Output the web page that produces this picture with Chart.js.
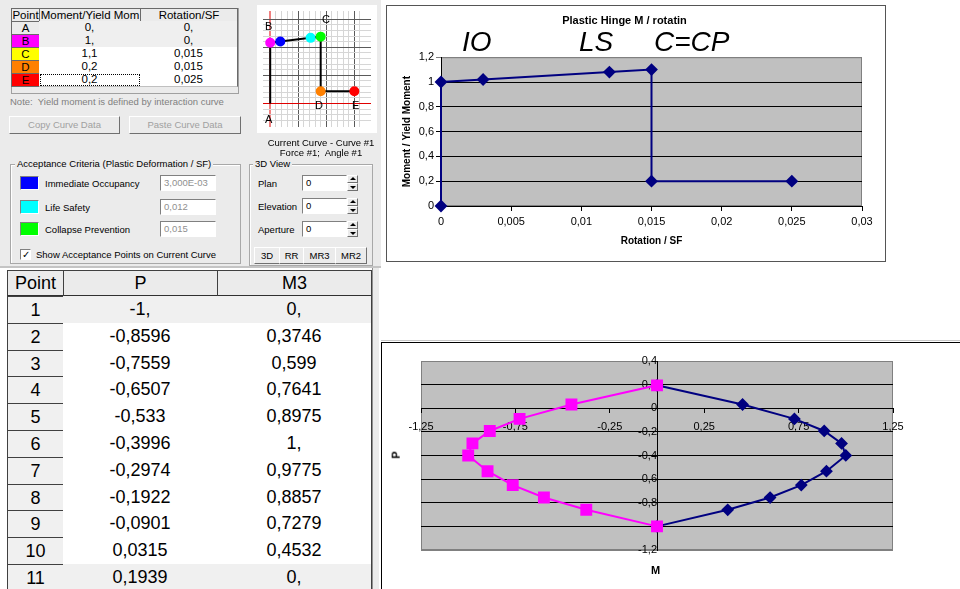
<!DOCTYPE html>
<html lang="en">
<head>
<meta charset="UTF-8">
<title>Plastic hinge M / rotation and P-M interaction</title>
<script src="https://cdn.jsdelivr.net/npm/chart.js"></script>
<style>
  body { margin:0; width:960px; height:589px; position:relative; overflow:hidden; background:#fff;
         font-family:'Liberation Sans', Arial, sans-serif; font-size:9.5px; color:#000; }
  .abs { position:absolute; white-space:nowrap; }
  .cell { position:absolute; box-sizing:border-box; text-align:center; overflow:visible; white-space:nowrap; }
  .grp { position:absolute; box-sizing:border-box; border:1px solid #a8a8a8; box-shadow:inset 1px 1px 0 #fff; }
  .leg { position:absolute; background:#ebebeb; padding:0 2px; line-height:12px; top:-7px; }
  .btn { position:absolute; box-sizing:border-box; background:#ebebeb; border:1px solid; border-color:#fff #707070 #707070 #fff;
         text-align:center; }
  .box { position:absolute; box-sizing:border-box; border:1px solid; border-color:#808080 #fff #fff #808080; background:#fff;
         padding-left:3px; line-height:14px; }
  .sw { position:absolute; box-sizing:border-box; width:19px; height:14px; border:1px solid; border-color:#808080 #fff #fff #808080; }
  .spin { position:absolute; box-sizing:border-box; width:11px; height:8px; background:#ebebeb; border:1px solid; border-color:#fff #707070 #707070 #fff; }
  .up::after, .dn::after { content:''; position:absolute; left:2px; border-left:3px solid transparent; border-right:3px solid transparent; }
  .up::after { top:1px; border-bottom:3px solid #000; }
  .dn::after { top:2px; border-top:3px solid #000; }
  canvas { position:absolute; }
</style>
</head>
<body>

<!-- dialog part -->
<div class="abs" style="left:0;top:0;width:381px;height:266px;background:#ebebeb;border-bottom:2px solid #c4c4c4;"></div>
<div class="abs" style="left:11px;top:8px;width:228px;height:86px;background:#ebebeb;border:1px solid #a0a0a0;box-sizing:border-box;"></div>
<div id="t1" class="abs" style="left:11px;top:8px;font-size:11.5px;"></div>
<div class="abs" style="left:10px;top:96px;color:#808080;">Note:&nbsp; Yield moment is defined by interaction curve</div>
<div class="btn" style="left:9px;top:116px;width:111px;height:18px;line-height:16px;color:#a0a0a0;">Copy Curve Data</div>
<div class="btn" style="left:129px;top:116px;width:112px;height:18px;line-height:16px;color:#a0a0a0;">Paste Curve Data</div>

<canvas id="preview" width="120" height="128" style="left:257px;top:5px;background:#fff;"></canvas>
<div class="abs" style="left:265px;top:20px;font-size:11px;">B</div>
<div class="abs" style="left:322px;top:13px;font-size:11px;">C</div>
<div class="abs" style="left:315px;top:99px;font-size:11px;">D</div>
<div class="abs" style="left:352px;top:99px;font-size:11px;">E</div>
<div class="abs" style="left:265px;top:113px;font-size:11px;">A</div>
<div class="abs" style="left:262px;top:138px;width:118px;text-align:center;line-height:10px;">Current Curve - Curve #1<br>Force #1;&nbsp; Angle #1</div>

<div class="grp" style="left:10px;top:164px;width:231px;height:100px;">
  <span class="leg" style="left:4px;">Acceptance Criteria (Plastic Deformation / SF)</span>
</div>
<div class="sw" style="left:20px;top:176px;background:#0000ff;"></div>
<div class="abs" style="left:45px;top:178px;">Immediate Occupancy</div>
<div class="box" style="left:160px;top:175px;width:56px;height:16px;color:#909090;">3,000E-03</div>
<div class="sw" style="left:20px;top:200px;background:#00ffff;"></div>
<div class="abs" style="left:45px;top:202px;">Life Safety</div>
<div class="box" style="left:160px;top:199px;width:56px;height:16px;color:#909090;">0,012</div>
<div class="sw" style="left:20px;top:222px;background:#00ff00;"></div>
<div class="abs" style="left:45px;top:224px;">Collapse Prevention</div>
<div class="box" style="left:160px;top:221px;width:56px;height:16px;color:#909090;">0,015</div>
<div class="abs" style="left:20px;top:249px;width:11px;height:11px;box-sizing:border-box;border:1px solid;border-color:#808080 #fff #fff #808080;background:#fff;font-size:10px;line-height:9px;text-align:center;">&#10003;</div>
<div class="abs" style="left:36px;top:249px;">Show Acceptance Points on Current Curve</div>

<div class="grp" style="left:249px;top:164px;width:124px;height:102px;">
  <span class="leg" style="left:3px;">3D View</span>
</div>
<div class="abs" style="left:258px;top:178px;">Plan</div>
<div class="box" style="left:302px;top:175px;width:45px;height:16px;">0</div>
<div class="spin up" style="left:347px;top:175px;"></div><div class="spin dn" style="left:347px;top:183px;"></div>
<div class="abs" style="left:258px;top:201px;">Elevation</div>
<div class="box" style="left:302px;top:198px;width:45px;height:16px;">0</div>
<div class="spin up" style="left:347px;top:198px;"></div><div class="spin dn" style="left:347px;top:206px;"></div>
<div class="abs" style="left:258px;top:224px;">Aperture</div>
<div class="box" style="left:302px;top:221px;width:45px;height:16px;">0</div>
<div class="spin up" style="left:347px;top:221px;"></div><div class="spin dn" style="left:347px;top:229px;"></div>
<div class="btn" style="left:254px;top:247px;width:26px;height:17px;line-height:15px;">3D</div>
<div class="btn" style="left:279px;top:247px;width:25px;height:17px;line-height:15px;">RR</div>
<div class="btn" style="left:303px;top:247px;width:33px;height:17px;line-height:15px;">MR3</div>
<div class="btn" style="left:335px;top:247px;width:32px;height:17px;line-height:15px;">MR2</div>

<!-- interaction table -->
<div id="t2" class="abs" style="left:7px;top:270px;font-size:18px;"></div>
<div class="abs" style="left:372px;top:268px;width:6px;height:321px;background:#ebebeb;border-left:1px solid #909090;"></div>

<!-- hinge chart -->
<div class="abs" style="left:386px;top:5px;width:500px;height:257px;border:1px solid #555;box-sizing:border-box;"></div>
<canvas id="hinge" width="498" height="255" style="left:387px;top:6px;"></canvas>
<div class="abs" style="left:462px;top:28px;font-size:28px;font-style:italic;line-height:28px;">IO</div>
<div class="abs" style="left:579px;top:28px;font-size:28px;font-style:italic;line-height:28px;">LS</div>
<div class="abs" style="left:654px;top:28px;font-size:28px;font-style:italic;line-height:28px;">C=CP</div>

<!-- interaction chart -->
<div class="abs" style="left:381px;top:340px;width:579px;height:1px;background:#c8c8c8;"></div>
<div class="abs" style="left:381px;top:342px;width:579px;height:247px;border-left:1px solid #000;border-top:1px solid #000;box-sizing:border-box;"></div>
<canvas id="inter" width="578" height="246" style="left:382px;top:343px;"></canvas>
<div class="abs" style="left:651px;top:564px;font-weight:bold;font-size:11px;">M</div>
<div class="abs" style="left:392px;top:449px;font-weight:bold;font-size:11px;transform:rotate(-90deg);">P</div>

<script>
// hinge definition table
const hingePoints = ['A', 'B', 'C', 'D', 'E'];
const hingeMoment = [0, 1, 1.1, 0.2, 0.2];
const hingeRotation = [0, 0, 0.015, 0.015, 0.025];

// hinge curve as plotted (A, B, IO, LS, C, D, E)
const curveRotation = [0, 0, 0.003, 0.012, 0.015, 0.015, 0.025];
const curveMoment = [0, 1, 1.02, 1.08, 1.1, 0.2, 0.2];
const hingeXTicks = [0, 0.005, 0.01, 0.015, 0.02, 0.025, 0.03];
const hingeYTicks = [0, 0.2, 0.4, 0.6, 0.8, 1, 1.2];

// interaction curve
const pointNo = [1, 2, 3, 4, 5, 6, 7, 8, 9, 10, 11];
const pValues = [-1, -0.8596, -0.7559, -0.6507, -0.533, -0.3996, -0.2974, -0.1922, -0.0901, 0.0315, 0.1939];
const m3Values = [0, 0.3746, 0.599, 0.7641, 0.8975, 1, 0.9775, 0.8857, 0.7279, 0.4532, 0];
const m3Mirror = [0, -0.3746, -0.599, -0.7641, -0.8975, -1, -0.9775, -0.8857, -0.7279, -0.4532, 0];
const interXTicks = [-1.25, -0.75, -0.25, 0.25, 0.75, 1.25];
const interYTicks = [-1.2, -1, -0.8, -0.6, -0.4, -0.2, 0, 0.2, 0.4];

const pointColors = ['#ebebeb', '#ff00ff', '#ffff00', '#ff8000', '#ff0000'];
const previewColors = ['#000', '#ff00ff', '#0000ff', '#00ffff', '#00ff00', '#ff8000', '#ff0000'];

const sap = v => Number.isInteger(v) ? v + ',' : String(v).replace('.', ',');
const fmt = v => String(Math.round(v * 1e6) / 1e6).replace('.', ',');

function cell(parent, x, y, w, h, text, css) {
  const d = document.createElement('div');
  d.className = 'cell';
  d.style.cssText = `left:${x}px;top:${y}px;width:${w}px;height:${h}px;line-height:${h - 2}px;` + (css || '');
  d.textContent = text;
  parent.appendChild(d);
}

// top table
const t1 = document.getElementById('t1');
const t1x = [0, 28, 129], t1w = [29, 102, 98];
['Point', 'Moment/Yield Mom', 'Rotation/SF'].forEach((h, c) =>
  cell(t1, t1x[c], 0, t1w[c], 14, h, 'background:#ebebeb;border:1px solid #6a6a6a;'));
hingePoints.forEach((p, i) => {
  const y = 13 + i * 13;
  const bg = i < 2 ? '#efefef' : '#fff';
  cell(t1, 0, y, 29, 14, p, `background:${pointColors[i]};border:1px solid #6a6a6a;`);
  cell(t1, 28, y, 102, 14, sap(hingeMoment[i]), `background:${bg};border-bottom:1px solid #c0c0c0;border-right:1px solid #6a6a6a;` +
    (i === 4 ? 'outline:1px dotted #000;outline-offset:-2px;' : ''));
  cell(t1, 129, y, 98, 14, sap(hingeRotation[i]), `background:${bg};border-bottom:1px solid #c0c0c0;border-right:1px solid #6a6a6a;`);
});

// interaction table
const t2 = document.getElementById('t2');
const t2x = [0, 56, 210], t2w = [57, 155, 155];
['Point', 'P', 'M3'].forEach((h, c) =>
  cell(t2, t2x[c], 0, t2w[c], 27, h, 'background:#ebebeb;border:1px solid #404040;border-bottom:2px solid #303030;'));
pointNo.forEach((n, i) => {
  const y = Math.round(26 + i * 26.8);
  const bg = (i === 0 || i === pointNo.length - 1) ? '#f0f0f0' : '#fff';
  cell(t2, 0, y, 57, 28, String(n), 'background:#f0f0f0;border:1px solid #404040;');
  cell(t2, 56, y, 155, 28, sap(pValues[i]), `background:${bg};border-bottom:1px solid #c4c4c4;border-right:1px solid #404040;`);
  cell(t2, 210, y, 155, 28, sap(m3Values[i]), `background:${bg};border-bottom:1px solid #c4c4c4;border-right:1px solid #404040;`);
});

Chart.defaults.font.family = "'Liberation Sans', Arial, sans-serif";
Chart.defaults.font.size = 11;
Chart.defaults.color = '#000';

const plotBg = {
  id: 'plotBg',
  beforeDraw(chart, args, opts) {
    const {ctx, chartArea: a} = chart;
    ctx.save();
    ctx.fillStyle = opts.color;
    ctx.fillRect(a.left, a.top, a.width, a.height);
    ctx.strokeStyle = opts.border;
    ctx.lineWidth = 1;
    ctx.strokeRect(a.left + 0.5, a.top + 0.5, a.width - 1, a.height - 1);
    ctx.restore();
  }
};

const toXY = (xs, ys) => xs.map((x, i) => ({x: x, y: ys[i]}));
const common = {
  responsive: false, animation: false, events: [],
  plugins: { legend: { display: false }, tooltip: { enabled: false } }
};

// preview (SAP curve window)
function previewGrid(step, axisColor) {
  return ctx => {
    const v = ctx.tick.value / step, k = Math.round(v);
    if (Math.abs(v - k) > 0.01) return 'rgba(0,0,0,0)';
    if (k === 0) return axisColor;
    return k % 5 === 0 ? '#5a5a5a' : '#d6d6d6';
  };
}
new Chart(document.getElementById('preview'), {
  type: 'scatter',
  data: { datasets: [{
    data: toXY(curveRotation, curveMoment), showLine: true, borderColor: '#000', borderWidth: 2,
    pointRadius: [0, 4, 4, 4, 4, 4, 4], pointBackgroundColor: previewColors, pointBorderColor: previewColors, clip: false
  }] },
  options: { ...common, layout: { padding: 0 },
    scales: {
      x: { min: -0.00214, max: 0.02995, ticks: { display: false, stepSize: 0.025 / 15, maxTicksLimit: 100 },
           grid: { color: previewGrid(0.025 / 15, '#f08080'), lineWidth: c => Math.abs(c.tick.value) < 1e-9 ? 2 : 1, drawTicks: false },
           border: { display: false }, afterFit: s => { s.height = 0; } },
      y: { min: -0.388, max: 1.5224, ticks: { display: false, stepSize: 0.0925, maxTicksLimit: 100 },
           grid: { color: previewGrid(0.0925, '#e00000'), drawTicks: false },
           border: { display: false }, afterFit: s => { s.width = 0; } }
    }
  }
});

// plastic hinge chart
new Chart(document.getElementById('hinge'), {
  type: 'scatter',
  data: { datasets: [{
    data: toXY(curveRotation, curveMoment), showLine: true, borderColor: '#000080', borderWidth: 2,
    pointStyle: 'rectRot', pointRadius: 5, pointBackgroundColor: '#000080', pointBorderColor: '#000080', clip: false
  }] },
  plugins: [plotBg],
  options: { ...common,
    layout: { padding: { left: 0, right: 23, top: 0, bottom: 0 } },
    plugins: { ...common.plugins,
      title: { display: true, text: 'Plastic Hinge M / rotatin', font: { size: 11, weight: 'bold' }, padding: { top: 8, bottom: 30 } },
      plotBg: { color: '#c0c0c0', border: '#808080' } },
    scales: {
      x: { type: 'linear', min: 0, max: 0.03,
           afterBuildTicks: s => { s.ticks = hingeXTicks.map(v => ({ value: v })); },
           afterFit: s => { s.height = 55; },
           ticks: { callback: fmt, padding: 4, maxRotation: 0, autoSkip: false },
           grid: { drawOnChartArea: false, tickLength: 5, color: '#000' }, border: { color: '#000' },
           title: { display: true, text: 'Rotation / SF', font: { size: 10, weight: 'bold' }, padding: 14 } },
      y: { min: 0, max: 1.2,
           afterBuildTicks: s => { s.ticks = hingeYTicks.map(v => ({ value: v })); },
           afterFit: s => { s.width = 54; },
           ticks: { callback: fmt, padding: 2, autoSkip: false },
           grid: { color: c => c.tick && c.tick.value === 1.2 ? '#808080' : '#000', tickLength: 5 }, border: { color: '#000' },
           title: { display: true, text: 'Moment / Yield Moment', font: { size: 10, weight: 'bold' }, padding: 14 } }
    }
  }
});

// P-M interaction chart
new Chart(document.getElementById('inter'), {
  type: 'scatter',
  data: { datasets: [
    { data: toXY(m3Mirror, pValues), showLine: true, borderColor: '#ff00ff', borderWidth: 2,
      pointStyle: 'rect', pointRadius: 7, pointBackgroundColor: '#ff00ff', pointBorderColor: '#ff00ff', clip: false },
    { data: toXY(m3Values, pValues), showLine: true, borderColor: '#000080', borderWidth: 2,
      pointStyle: 'rectRot', pointRadius: 5, pointBackgroundColor: '#000080', pointBorderColor: '#000080', clip: false }
  ] },
  plugins: [plotBg],
  options: { ...common,
    layout: { padding: { left: 39, right: 67, top: 18, bottom: 39 } },
    plugins: { ...common.plugins, plotBg: { color: '#c0c0c0', border: '#808080' } },
    scales: {
      x: { type: 'linear', min: -1.25, max: 1.25, position: { y: 0 },
           afterBuildTicks: s => { s.ticks = interXTicks.map(v => ({ value: v })); },
           ticks: { callback: fmt, padding: 8, maxRotation: 0, autoSkip: false },
           grid: { drawOnChartArea: false, tickLength: 4, color: '#000' }, border: { color: '#000' } },
      y: { min: -1.2, max: 0.4, position: { x: 0 },
           afterBuildTicks: s => { s.ticks = interYTicks.map(v => ({ value: v })); },
           ticks: { callback: fmt, padding: 3, autoSkip: false },
           grid: { color: c => c.tick && (c.tick.value === 0.4 || c.tick.value === -1.2) ? '#808080' : '#000', tickLength: 4 },
           border: { color: '#000' } }
    }
  }
});
</script>
</body>
</html>
